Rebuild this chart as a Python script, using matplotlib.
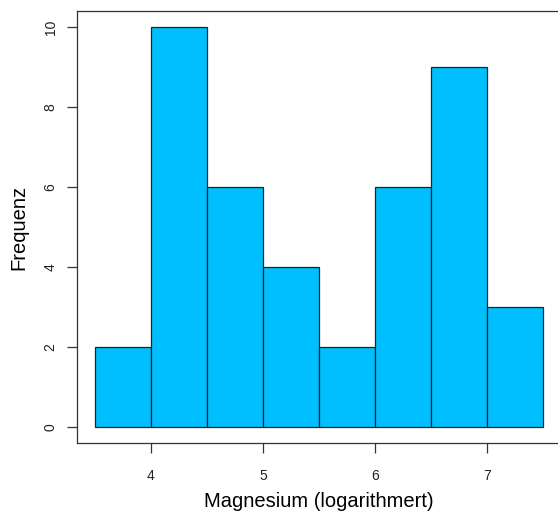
import numpy as np
import matplotlib
matplotlib.use("Agg")
import matplotlib.pyplot as plt

plt.rcParams['font.family'] = ['Liberation Sans', 'DejaVu Sans']

# histogram bins and counts
bin_edges = [3.5, 4.0, 4.5, 5.0, 5.5, 6.0, 6.5, 7.0, 7.5]
counts = [2, 10, 6, 4, 2, 6, 9, 3]
x_ticks = [4, 5, 6, 7]
y_ticks = [0, 2, 4, 6, 8, 10]

fig = plt.figure(figsize=(5.58, 5.15), dpi=100)
ax = fig.add_axes([77 / 558, 72 / 515, 484 / 558, 432 / 515])

lefts = np.array(bin_edges[:-1])
widths = np.diff(bin_edges)
ax.bar(lefts, counts, width=widths, align='edge', color='#00BFFF',
       edgecolor='#222222', linewidth=0.9)

ax.set_xlim(3.34, 7.66)
ax.set_ylim(-0.4, 10.4)

ax.set_xticks(x_ticks)
ax.set_yticks(y_ticks)
ax.set_yticklabels([str(v) for v in y_ticks], rotation=90, va='center')
ax.tick_params(axis='both', length=7, width=0.9, color='#333333',
               labelsize=10, labelcolor='#222222')
ax.tick_params(axis='x', pad=12)
ax.tick_params(axis='y', pad=7)

for s in ax.spines.values():
    s.set_color('#333333')
    s.set_linewidth(0.9)

ax.set_xlabel('Magnesium (logarithmert)', fontsize=14.5, labelpad=6)
ax.set_ylabel('Frequenz', fontsize=14.5, labelpad=11)

fig.savefig('out.png', dpi=100)
